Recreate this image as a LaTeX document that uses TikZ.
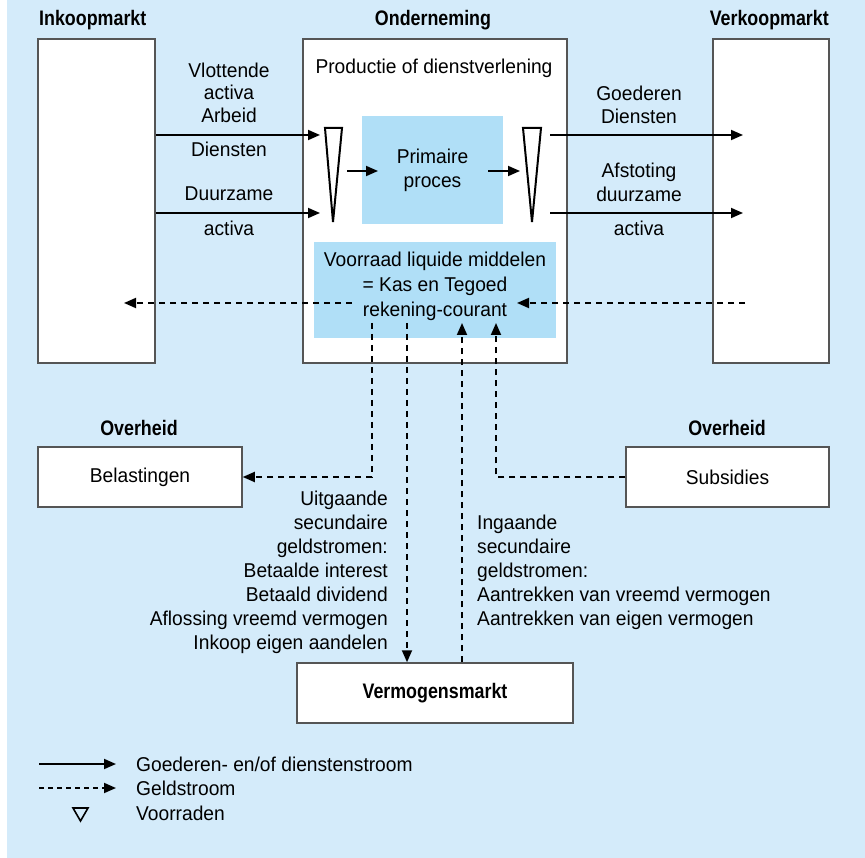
\documentclass[tikz,border=0pt]{standalone}
\usepackage{fontspec}
\setmainfont[FakeStretch=0.96]{Liberation Sans}
\newfontfamily\headfont[FakeStretch=0.85]{Liberation Sans}
\usetikzlibrary{arrows.meta}

\definecolor{panel}{RGB}{212,235,250}
\definecolor{core}{RGB}{176,223,247}
\definecolor{edge}{RGB}{85,85,85}

\begin{document}
\begin{tikzpicture}[x=1pt,y=-1pt,
  every node/.style={font=\fontsize{20}{24}\selectfont, inner sep=0pt},
  box/.style={draw=edge, line width=1.5pt, fill=white},
  corebox/.style={fill=core},
  hdr/.style={font=\headfont\bfseries\fontsize{21}{24}\selectfont},
  flow/.style={line width=1.8pt, -{Triangle[length=12pt,width=10pt]}},
  money/.style={line width=1.8pt, dash pattern=on 6pt off 5pt, -{Triangle[length=12pt,width=10pt]}},
  stock/.style={line width=2pt, fill=white, line join=miter},
]
\useasboundingbox (0,0) rectangle (865,858);
\fill[panel] (7,0) rectangle (865,858);

% markets and the firm
\node[box, minimum width=117pt, minimum height=324pt] (ink) at (96.5,201) {};
\node[box, minimum width=264pt, minimum height=324pt] (ond) at (435,201) {};
\node[box, minimum width=116pt, minimum height=324pt] (verk) at (771,201) {};

\node[hdr, anchor=west] (inkh) at (39,20) {Inkoopmarkt};
\node[hdr] (ondh) at (433,20) {Onderneming};
\node[hdr, anchor=east] (verkh) at (829,20) {Verkoopmarkt};

\node (prod) at (434,68) {Productie of dienstverlening};

% inner blocks of the firm
\node[corebox, minimum width=141pt, minimum height=108pt, align=center] (prim) at (432.5,170) {Primaire\\proces};
\node[corebox, minimum width=242pt, minimum height=96pt] (voor) at (435,290) {};
\node[align=center, font=\fontsize{20}{25}\selectfont] (voortxt) at (435,286) {Voorraad liquide middelen\\= Kas en Tegoed\\rekening-courant};

% stocks (triangles)
\draw[stock] (325,128) -- (342,128) -- (333,222) -- cycle;
\draw[stock] (523,128) -- (541,128) -- (532,222) -- cycle;
\coordinate (inA) at (320,135);
\coordinate (inB) at (320,213);
\coordinate (stL) at (347,171);
\coordinate (primL) at (378,171);
\coordinate (primR) at (488,171);
\coordinate (stR) at (520,171);
\coordinate (outA) at (550,135);
\coordinate (outB) at (550,213);
\coordinate (tipA) at (743,135);
\coordinate (tipB) at (743,213);

% goods and services flows
\draw[flow] (ink.east |- inA) -- (inA);
\draw[flow] (ink.east |- inB) -- (inB);
\draw[flow] (stL) -- (primL);
\draw[flow] (primR) -- (stR);
\draw[flow] (outA) -- (tipA);
\draw[flow] (outB) -- (tipB);

\node[align=center, font=\fontsize{20}{22.5}\selectfont] (lblA) at (229,92.5) {Vlottende\\activa\\Arbeid};
\node (lblB) at (229,149) {Diensten};
\node (lblC) at (229,194) {Duurzame};
\node (lblD) at (229,228) {activa};
\node[align=center, font=\fontsize{20}{23}\selectfont] (lblE) at (639,104.5) {Goederen\\Diensten};
\node[align=center] (lblF) at (639,182) {Afstoting\\duurzame};
\node (lblG) at (639,228) {activa};

% government
\node[hdr] (ovl) at (139,428) {Overheid};
\node[hdr] (ovr) at (727,428) {Overheid};
\node[box, minimum width=204pt, minimum height=60pt] (bel) at (140,477) {Belastingen};
\node[box, minimum width=203pt, minimum height=60pt] (sub) at (727.5,477) {Subsidies};

% capital market
\node[box, minimum width=276pt, minimum height=60pt, font=\headfont\bfseries\fontsize{21}{24}\selectfont] (verm) at (435,693) {Vermogensmarkt};

% money flows
\coordinate (mL) at (352,303);
\coordinate (mLtip) at (124,303);
\coordinate (mR) at (745,303);
\coordinate (mRtip) at (517,303);
\coordinate (d1) at (372,323);
\coordinate (d2) at (407,323);
\coordinate (u1) at (462,323);
\coordinate (u2) at (496,323);

\draw[money] (mL) -- (mLtip);
\draw[money] (mR) -- (mRtip);
\draw[money] (d1) |- (bel.east);
\draw[money] (d2) -- (d2 |- verm.north);
\draw[money] (u1 |- verm.north) -- (u1);
\draw[money] (sub.west) -| (u2);

\node[align=right, anchor=east] (uit) at (388,572) {Uitgaande\\secundaire\\geldstromen:\\Betaalde interest\\Betaald dividend\\Aflossing vreemd vermogen\\Inkoop eigen aandelen};
\node[align=left, anchor=west] (ing) at (477,572.5) {Ingaande\\secundaire\\geldstromen:\\Aantrekken van vreemd vermogen\\Aantrekken van eigen vermogen};

% legend
\coordinate (lg1a) at (39,764);
\coordinate (lg1b) at (116,764);
\coordinate (lg2a) at (39,788);
\coordinate (lg2b) at (116,788);
\draw[flow] (lg1a) -- (lg1b);
\draw[money, dash pattern=on 5pt off 4pt] (lg2a) -- (lg2b);
\draw[line width=1.6pt, line join=miter] (73,808) -- (88,808) -- (80.5,821) -- cycle;
\node[anchor=west] (lgt1) at (136,764) {Goederen- en/of dienstenstroom};
\node[anchor=west] (lgt2) at (136,788) {Geldstroom};
\node[anchor=west] (lgt3) at (136,813) {Voorraden};
\end{tikzpicture}
\end{document}
